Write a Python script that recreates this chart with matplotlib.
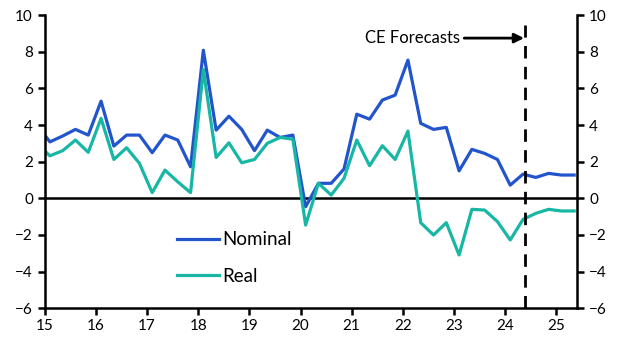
import matplotlib
matplotlib.use("Agg")
import matplotlib.pyplot as plt
import numpy as np

# Quarterly data, Q4 2014 .. Q2 2025
start_year = 14.75
nominal = [4.0, 3.08, 3.4, 3.76, 3.45, 5.30, 2.85, 3.45, 3.45, 2.49, 3.45, 3.18, 1.72,
           8.08, 3.72, 4.48, 3.76, 2.6, 3.72, 3.32, 3.45, -0.46, 0.82, 0.82, 1.6,
           4.59, 4.32, 5.36, 5.63, 7.54, 4.09, 3.76, 3.87, 1.5, 2.67, 2.45, 2.12,
           0.72, 1.32, 1.14, 1.36, 1.27, 1.27]
real = [2.97, 2.32, 2.6, 3.18, 2.51, 4.36, 2.12, 2.76, 1.91, 0.31, 1.54, 0.9, 0.31,
        7.03, 2.23, 3.03, 1.94, 2.12, 3.0, 3.32, 3.23, -1.46, 0.82, 0.18, 1.09,
        3.18, 1.78, 2.87, 2.12, 3.67, -1.33, -2.0, -1.33, -3.09, -0.6, -0.64, -1.27,
        -2.27, -1.15, -0.82, -0.6, -0.69, -0.69]
forecast_start = 24.39
xticks = list(range(15, 26))
yticks = list(range(-6, 11, 2))

x = start_year + 0.1 + 0.25 * np.arange(len(nominal))

plt.rcParams['font.family'] = ['Lato', 'DejaVu Sans']
fig = plt.figure(figsize=(6.29, 3.55), dpi=100)
ax = fig.add_axes([0.0712, 0.1315, 0.8465, 0.8262])

ax.plot(x, nominal, color='#2255CC', lw=2.3, label='Nominal', clip_on=True)
ax.plot(x, real, color='#17B6A5', lw=2.3, label='Real', clip_on=True)
ax.axhline(0, color='black', lw=1.8, zorder=1)

ax.set_xlim(15, 25.41)
ax.set_ylim(-6, 10)
ax.set_xticks(xticks)
ax.set_xticklabels([str(t) for t in xticks])
ax.set_yticks(yticks)

ax.plot([forecast_start, forecast_start], [-6, 9.45], color='black', lw=2.0,
        dashes=(4.5, 3), clip_on=False, zorder=3)
ax.annotate('', xy=(forecast_start - 0.02, 8.74), xytext=(23.2, 8.74),
            arrowprops=dict(arrowstyle='-|>', color='black', lw=2.0,
                            mutation_scale=14, shrinkA=0, shrinkB=0))
ax.text(23.12, 8.74, 'CE Forecasts', ha='right', va='center', fontsize=12)

for s in ['top']:
    ax.spines[s].set_visible(False)
for s in ['left', 'right', 'bottom']:
    ax.spines[s].set_linewidth(1.8)
ax.tick_params(axis='both', direction='out', width=1.8, length=5, labelsize=11)
ax.tick_params(axis='y', right=True, labelright=True)
ax.tick_params(axis='x', pad=3)

leg = ax.legend(loc='center left', bbox_to_anchor=(0.248, 0.172), frameon=False,
                fontsize=13.5, handlelength=2.25, labelspacing=1.03, handletextpad=0.15,
                borderpad=0, borderaxespad=0)

fig.savefig('out.png', dpi=100)
